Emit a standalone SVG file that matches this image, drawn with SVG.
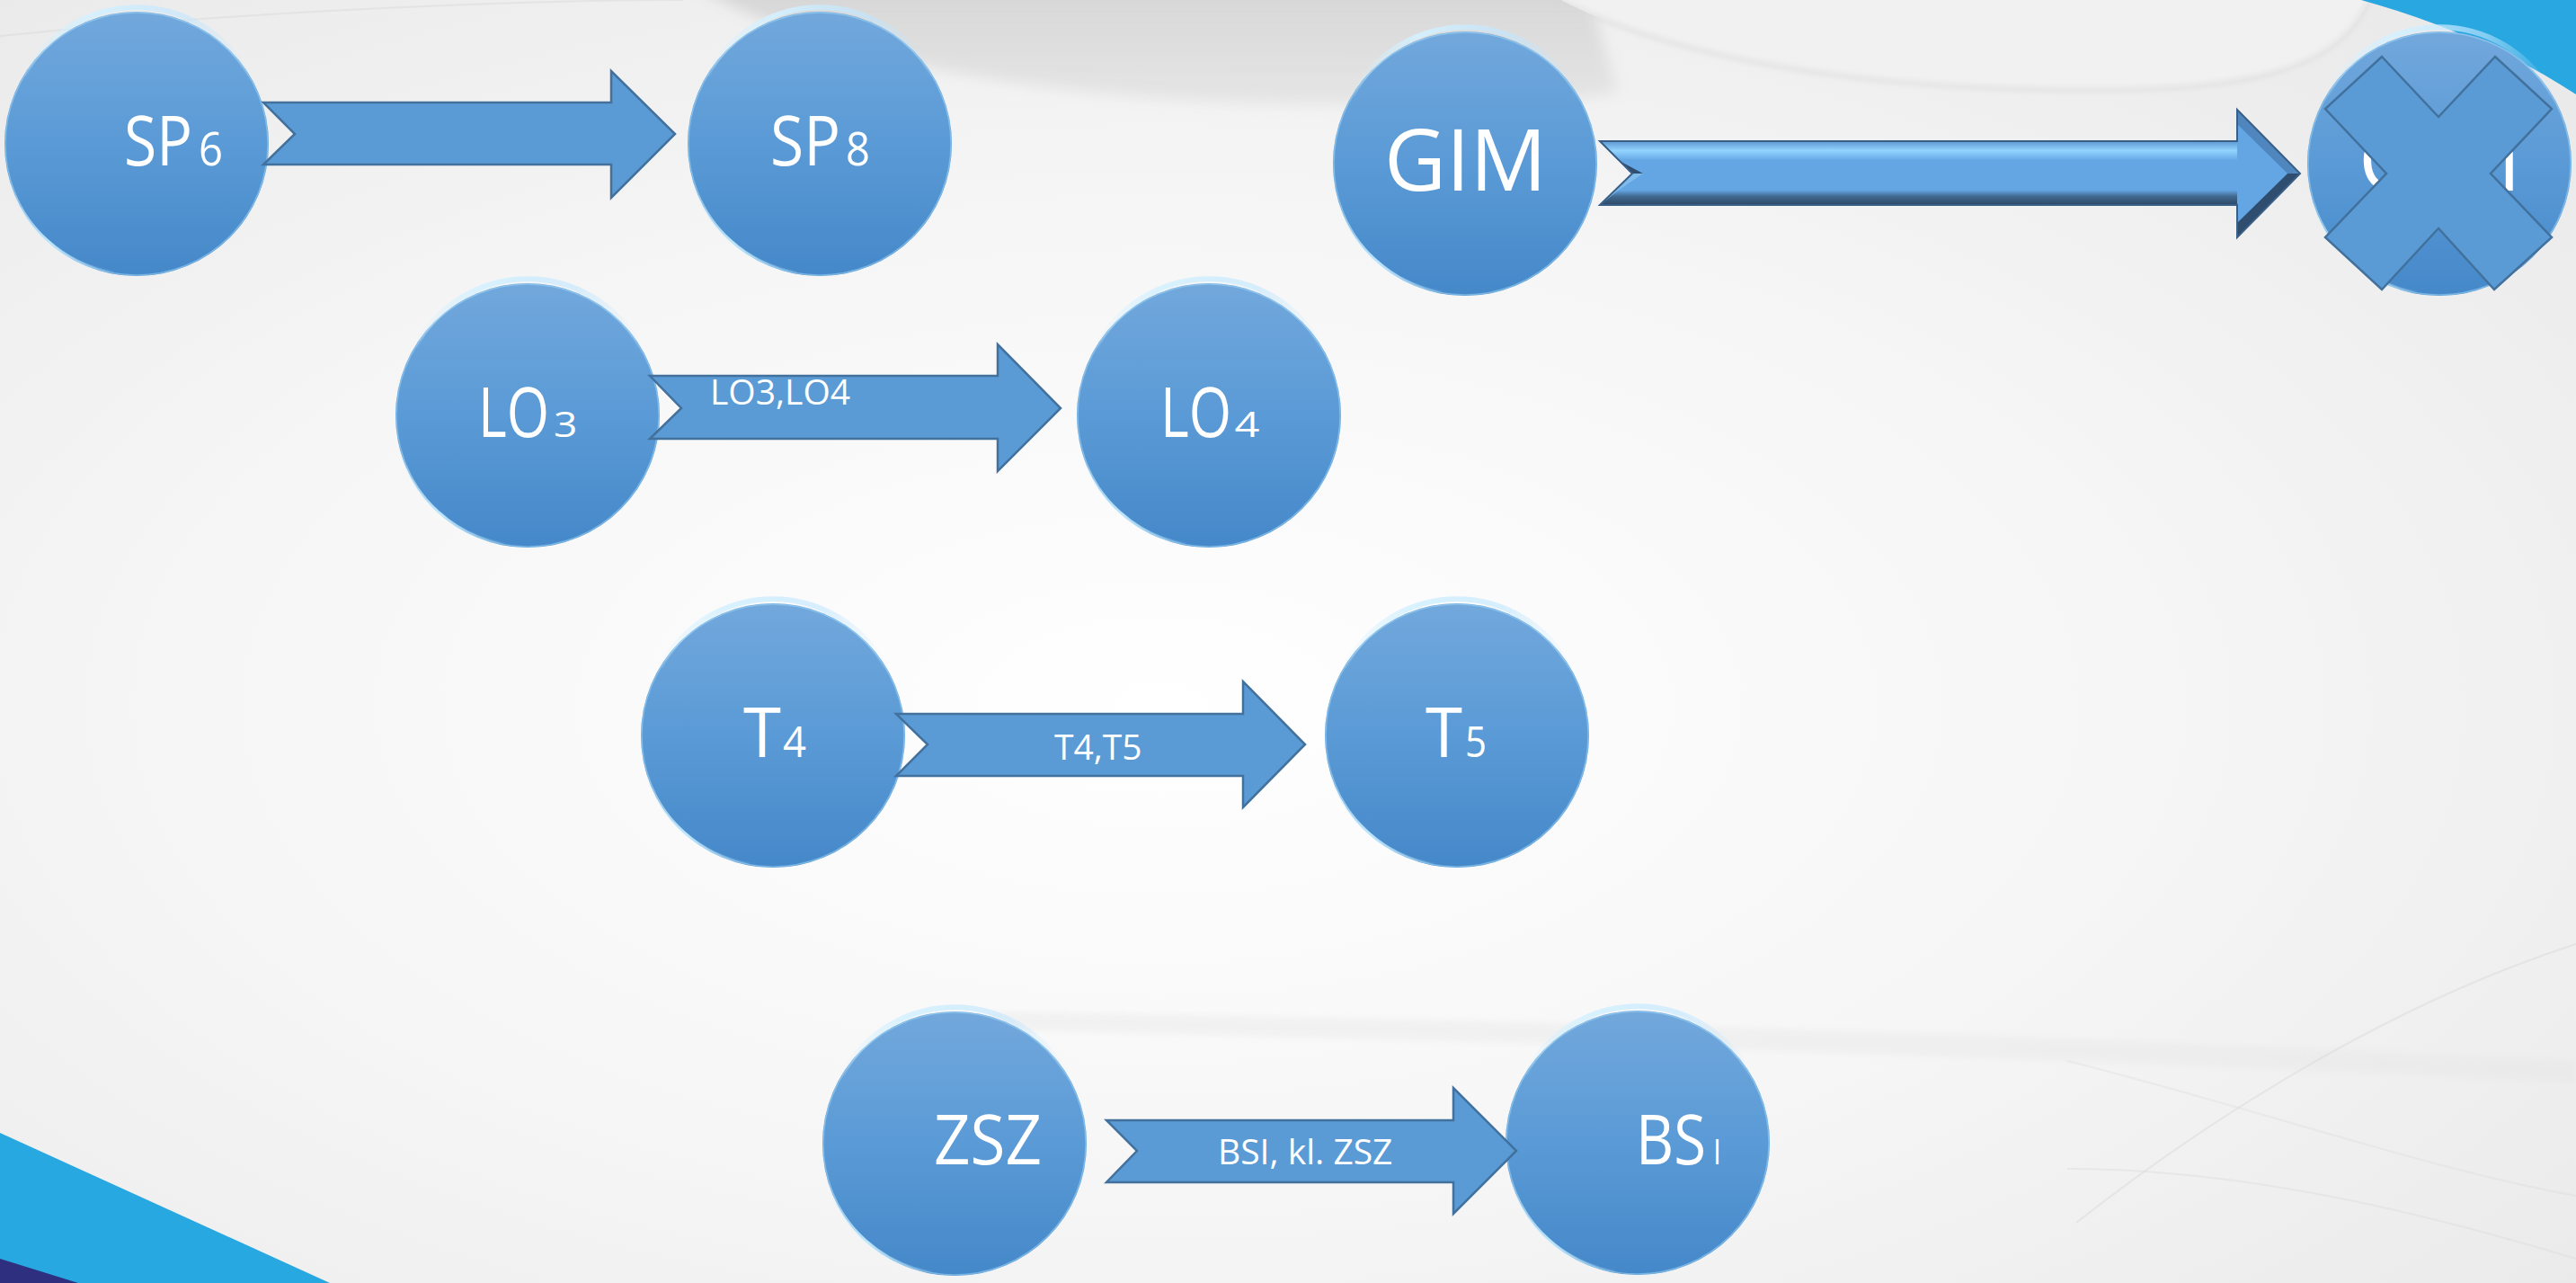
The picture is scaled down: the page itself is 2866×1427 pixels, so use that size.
<svg xmlns="http://www.w3.org/2000/svg" width="2866" height="1427" viewBox="0 0 2866 1427">
  <style>
    .ntext { font-family: "Open Sans", "Liberation Sans", sans-serif; fill: #ffffff; }
    .main { font-size: 76px; }
    .lbl { font-family: "Open Sans", "Liberation Sans", sans-serif; fill: #ffffff; font-size: 39px; }
    .arrow { fill: #5b9bd5; stroke: #41719c; stroke-width: 2.5; stroke-linejoin: miter; }
    .cross { fill: #5b9bd5; stroke: #41719c; stroke-width: 2.5; stroke-linejoin: miter; }
    .swoosh { fill: none; stroke: #d9d9d9; }
  </style>
  <defs>
    <filter id="soft" x="-10%" y="-50%" width="120%" height="200%">
      <feGaussianBlur stdDeviation="8"/>
    </filter>
    <filter id="softer" x="-10%" y="-50%" width="120%" height="200%">
      <feGaussianBlur stdDeviation="3"/>
    </filter>
    <radialGradient id="bgGrad" cx="0.45" cy="0.55" r="0.75">
      <stop offset="0" stop-color="#ffffff"/>
      <stop offset="0.5" stop-color="#f7f6f6"/>
      <stop offset="1" stop-color="#eae9e9"/>
    </radialGradient>
    <linearGradient id="topGray" x1="0" y1="0" x2="0" y2="1">
      <stop offset="0" stop-color="#d0d0d0"/>
      <stop offset="1" stop-color="#dedede" stop-opacity="0.7"/>
    </linearGradient>
    <linearGradient id="nodeGrad" x1="0" y1="0" x2="0" y2="1">
      <stop offset="0" stop-color="#72a8dc"/>
      <stop offset="0.5" stop-color="#5a9ad6"/>
      <stop offset="1" stop-color="#4588c9"/>
    </linearGradient>
    <linearGradient id="topHi" gradientUnits="userSpaceOnUse" x1="-130" y1="0" x2="130" y2="0">
      <stop offset="0" stop-color="#cdefff" stop-opacity="0"/>
      <stop offset="0.3" stop-color="#d4f1ff" stop-opacity="0.9"/>
      <stop offset="0.7" stop-color="#bfe6ff" stop-opacity="0.6"/>
      <stop offset="1" stop-color="#bfe6ff" stop-opacity="0"/>
    </linearGradient>
    <linearGradient id="botHi" gradientUnits="userSpaceOnUse" x1="-145" y1="40" x2="-20" y2="145">
      <stop offset="0" stop-color="#c6ecff" stop-opacity="0"/>
      <stop offset="0.5" stop-color="#c6ecff" stop-opacity="0.9"/>
      <stop offset="1" stop-color="#c6ecff" stop-opacity="0"/>
    </linearGradient>
    <linearGradient id="bevelTop" gradientUnits="userSpaceOnUse" x1="0" y1="157" x2="0" y2="178">
      <stop offset="0" stop-color="#5d97d0"/>
      <stop offset="0.5" stop-color="#92d4ff"/>
      <stop offset="1" stop-color="#66a8e5"/>
    </linearGradient>
    <linearGradient id="bevelBot" gradientUnits="userSpaceOnUse" x1="0" y1="212" x2="0" y2="228">
      <stop offset="0" stop-color="#62a2de"/>
      <stop offset="0.4" stop-color="#41698f"/>
      <stop offset="1" stop-color="#2c4867"/>
    </linearGradient>
    <g id="bubble">
      <circle r="147" fill="url(#nodeGrad)"/>
      <circle r="146" fill="none" stroke="#9ad2f5" stroke-width="1.5" opacity="0.6"/>
      <path d="M -125 -76 A 141 141 0 0 1 125 -76" fill="none" stroke="url(#topHi)" stroke-width="6"/>
      <path d="M -142 38 A 145 145 0 0 0 -25 143" fill="none" stroke="url(#botHi)" stroke-width="3"/>
    </g>
  </defs>

  <g id="background">
    <rect width="2866" height="1427" fill="url(#bgGrad)"/>
    <path d="M 750 -30 C 880 60 1150 112 1440 116 C 1600 119 1740 116 1800 102 L 1760 -30 Z" fill="url(#topGray)" opacity="0.9" filter="url(#soft)"/>
    <path d="M 1737 0 C 1850 60 2050 98 2300 100 C 2500 102 2600 80 2636 0 Z" fill="#f1f1f1"/>
    <path class="swoosh" d="M 1737 0 C 1850 60 2050 98 2300 100 C 2500 102 2600 80 2636 0" stroke-width="3" filter="url(#softer)"/>
    <path class="swoosh" d="M 0 40 C 300 10 600 0 760 0" stroke-width="2" opacity="0.5"/>
    <path d="M 1100 1125 C 1600 1132 2300 1150 2866 1180 L 2866 1205 C 2300 1175 1600 1158 1100 1145 Z" fill="#e4e4e4" opacity="0.35" filter="url(#softer)"/>
    <path class="swoosh" d="M 2310 1360 C 2450 1250 2650 1120 2866 1050" stroke-width="2" opacity="0.5"/>
    <path class="swoosh" d="M 2300 1300 C 2500 1300 2700 1350 2866 1400" stroke-width="2" opacity="0.4"/>
    <path class="swoosh" d="M 2300 1180 C 2500 1230 2700 1300 2866 1330" stroke-width="2" opacity="0.35"/>
    <path d="M 2627 0 C 2700 20 2790 55 2866 105 L 2866 0 Z" fill="#29a7e0"/>
    <path d="M 0 1260 L 367 1427 L 0 1427 Z" fill="#27a8e0"/>
    <path d="M 0 1400 L 87 1427 L 0 1427 Z" fill="#2e2f7f"/>
  </g>

  <g id="nodes">
    <g id="node-sp6">
      <use href="#bubble" transform="translate(152,160)"/>
      <text class="ntext" y="184"><tspan class="main" x="138" textLength="76" lengthAdjust="spacingAndGlyphs">SP</tspan><tspan x="221" font-size="52" textLength="27" lengthAdjust="spacingAndGlyphs">6</tspan></text>
    </g>
    <g id="node-sp8">
      <use href="#bubble" transform="translate(912,160)"/>
      <text class="ntext" y="184"><tspan class="main" x="857" textLength="78" lengthAdjust="spacingAndGlyphs">SP</tspan><tspan x="941" font-size="52" textLength="27" lengthAdjust="spacingAndGlyphs">8</tspan></text>
    </g>
    <g id="node-gim">
      <use href="#bubble" transform="translate(1630,182)"/>
      <text class="ntext" x="1540" y="212" font-size="95">GIM</text>
    </g>
    <g id="node-gim-crossed">
      <use href="#bubble" transform="translate(2714,182)"/>
      <text class="ntext" x="2624" y="212" font-size="95">GIM</text>
    </g>
    <g id="node-lo3">
      <use href="#bubble" transform="translate(587,462)"/>
      <text class="ntext" transform="translate(532,486) scale(0.8,1)" y="0"><tspan class="main" x="0">LO</tspan><tspan x="105" font-size="38" textLength="33" lengthAdjust="spacingAndGlyphs">3</tspan></text>
    </g>
    <g id="node-lo4">
      <use href="#bubble" transform="translate(1345,462)"/>
      <text class="ntext" transform="translate(1291,486) scale(0.8,1)" y="0"><tspan class="main" x="0">LO</tspan><tspan x="103" font-size="38" textLength="35" lengthAdjust="spacingAndGlyphs">4</tspan></text>
    </g>
    <g id="node-t4">
      <use href="#bubble" transform="translate(860,818)"/>
      <text class="ntext" y="842"><tspan x="827" font-size="77" textLength="42" lengthAdjust="spacingAndGlyphs">T</tspan><tspan x="871" font-size="47" textLength="26" lengthAdjust="spacingAndGlyphs">4</tspan></text>
    </g>
    <g id="node-t5">
      <use href="#bubble" transform="translate(1621,818)"/>
      <text class="ntext" y="842"><tspan x="1586" font-size="77" textLength="41" lengthAdjust="spacingAndGlyphs">T</tspan><tspan x="1630" font-size="47" textLength="24" lengthAdjust="spacingAndGlyphs">5</tspan></text>
    </g>
    <g id="node-zsz">
      <use href="#bubble" transform="translate(1062,1272)"/>
      <text class="ntext main" x="1039" y="1295" textLength="120" lengthAdjust="spacingAndGlyphs">ZSZ</text>
    </g>
    <g id="node-bsi">
      <use href="#bubble" transform="translate(1822,1271)"/>
      <text class="ntext" y="1295"><tspan class="main" x="1820" textLength="78" lengthAdjust="spacingAndGlyphs">BS</tspan><tspan x="1906" font-size="38" textLength="9" lengthAdjust="spacingAndGlyphs">I</tspan></text>
    </g>
  </g>

  <g id="connectors">
    <g id="edge-sp6-sp8">
      <polygon class="arrow" points="293,114 680,114 680,79 751,149 680,220 680,183 293,183 328,149"/>
    </g>
    <g id="edge-lo3-lo4">
      <polygon class="arrow" points="723,418 1110,418 1110,383 1180,454 1110,524 1110,488 723,488 758,454"/>
      <text class="lbl" x="790" y="450">LO3,LO4</text>
    </g>
    <g id="edge-t4-t5">
      <polygon class="arrow" points="997,794 1383,794 1383,758 1452,828 1383,898 1383,863 997,863 1032,828"/>
      <text class="lbl" x="1173" y="845">T4,T5</text>
    </g>
    <g id="edge-zsz-bsi">
      <polygon class="arrow" points="1231,1246 1617,1246 1617,1210 1687,1280 1617,1350 1617,1315 1231,1315 1265,1280"/>
      <text class="lbl" x="1355" y="1295">BSI, kl. ZSZ</text>
    </g>
    <g id="edge-gim-gim">
      <polygon points="1780,157 2489,157 2489,122 2559,193 2489,264 2489,228 1780,228 1816,193" fill="#64a6e3"/>
      <polygon points="1780,157 2489,157 2489,178 1800,178" fill="url(#bevelTop)"/>
      <polygon points="1800,212 2489,212 2489,228 1780,228" fill="url(#bevelBot)"/>
      <polygon points="2489,122 2559,193 2545,193 2489,138" fill="#4f86bd"/>
      <polygon points="2559,193 2489,264 2489,248 2545,193" fill="#2f4d6e"/>
      <polygon points="1780,157 1816,193 1828,193 1800,178" fill="#2f4e70"/>
      <polygon points="1816,193 1780,228 1800,212 1828,193" fill="#7fbcec"/>
      <polygon points="1780,157 2489,157 2489,122 2559,193 2489,264 2489,228 1780,228 1816,193" fill="none" stroke="#3a5f86" stroke-width="2"/>
    </g>
  </g>

  <g id="cross-out">
    <polygon class="cross" points="2650,63 2713,130 2776,63 2839,121 2771,193 2839,264 2775,322 2713,254 2650,322 2587,264 2655,193 2587,121"/>
  </g>
</svg>
